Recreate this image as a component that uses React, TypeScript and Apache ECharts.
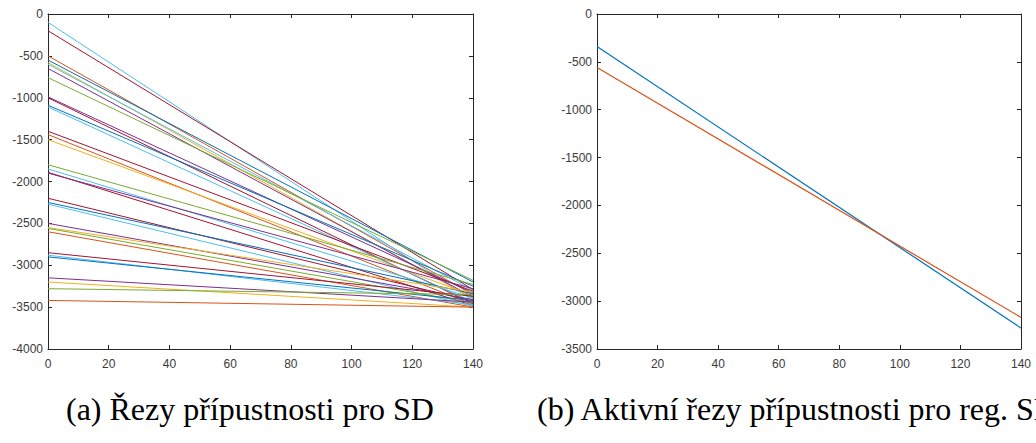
import React, { useEffect, useRef } from "react";
import * as echarts from "echarts";

// Left chart: start (x=0) and end (x=140) values of each cut
const leftStarts = [-100, -200, -500, -550, -580, -600, -650, -760, -990, -1000, -1090, -1110, -1400, -1440, -1500, -1800, -1850, -1890, -1900, -2200, -2250, -2270, -2500, -2550, -2560, -2600, -2850, -2880, -2900, -3150, -3200, -3280, -3420];
const leftEnds = [-3420, -3290, -3350, -3200, -3400, -3300, -3380, -3180, -3330, -3460, -3250, -3440, -3310, -3470, -3360, -3230, -3390, -3480, -3280, -3430, -3340, -3490, -3410, -3320, -3450, -3500, -3370, -3470, -3420, -3440, -3500, -3350, -3500];
const leftColorKeys = ["lb", "red", "orange", "blue", "yellow", "lb", "purple", "green", "purple", "red", "blue", "lb", "red", "orange", "yellow", "green", "lb", "red", "purple", "red", "blue", "lb", "purple", "yellow", "green", "orange", "red", "lb", "blue", "purple", "yellow", "green", "orange"];

// Right chart: two active cuts
const rightStarts = [-340, -560];
const rightEnds = [-3280, -3170];
const rightColorKeys = ["blue", "orange"];

const xRange = [0, 140];
const captions = ["(a) Řezy přípustnosti pro SD", "(b) Aktivní řezy přípustnosti pro reg. SD"];

const palette: Record<string, string> = {
  blue: "#0072BD",
  orange: "#D95319",
  yellow: "#EDB120",
  purple: "#7E2F8E",
  green: "#77AC30",
  lb: "#4DBEEE",
  red: "#A2142F",
};

const AXIS = "#262626";
const LABEL = "#3a3a3a";
const FONT = "'Liberation Sans', Arial, Helvetica, sans-serif";
const SERIF = "'Liberation Serif', 'Times New Roman', serif";

function xAxes(gridIndex: number) {
  const base = {
    gridIndex,
    type: "value" as const,
    min: 0,
    max: 140,
    interval: 20,
    splitLine: { show: false },
    axisLine: { show: true, onZero: false, lineStyle: { color: AXIS, width: 1 } },
    axisTick: { show: true, inside: true, length: 4, lineStyle: { color: AXIS } },
  };
  return [
    { ...base, position: "bottom", axisLabel: { show: true, color: LABEL, fontSize: 12, fontFamily: FONT, margin: 9, formatter: (v: number) => String(v) } },
    { ...base, position: "top", axisLabel: { show: false } },
  ];
}

function yAxes(gridIndex: number, min: number) {
  const base = {
    gridIndex,
    type: "value" as const,
    min,
    max: 0,
    interval: 500,
    splitLine: { show: false },
    axisLine: { show: true, onZero: false, lineStyle: { color: AXIS, width: 1 } },
    axisTick: { show: true, inside: true, length: 4, lineStyle: { color: AXIS } },
  };
  return [
    { ...base, position: "left", axisLabel: { show: true, color: LABEL, fontSize: 12, fontFamily: FONT, margin: 5, formatter: (v: number) => String(v) } },
    { ...base, position: "right", axisLabel: { show: false } },
  ];
}

export default function App() {
  const ref = useRef<HTMLDivElement>(null);
  useEffect(() => {
    document.body.style.margin = "0";
    if (!ref.current) return;
    const chart = echarts.init(ref.current, undefined, { renderer: "svg" });

    const series: any[] = [];
    leftStarts.forEach((s, i) => {
      series.push({
        type: "line",
        xAxisIndex: 0,
        yAxisIndex: 0,
        showSymbol: false,
        symbol: "none",
        lineStyle: { width: 1, color: palette[leftColorKeys[i]] },
        data: [[xRange[0], s], [xRange[1], leftEnds[i]]],
      });
    });
    rightStarts.forEach((s, i) => {
      series.push({
        type: "line",
        xAxisIndex: 2,
        yAxisIndex: 2,
        showSymbol: false,
        symbol: "none",
        lineStyle: { width: 1.2, color: palette[rightColorKeys[i]] },
        data: [[xRange[0], s], [xRange[1], rightEnds[i]]],
      });
    });

    chart.setOption({
      animation: false,
      grid: [
        { left: 48, top: 14, width: 425, height: 335 },
        { left: 597, top: 14, width: 424, height: 335 },
      ],
      xAxis: [...xAxes(0), ...xAxes(1)],
      yAxis: [...yAxes(0, -4000), ...yAxes(1, -3500)],
      series,
      graphic: [
        {
          type: "text",
          x: 66,
          y: 393,
          style: { text: captions[0], fontSize: 32, fontFamily: SERIF, fill: "#000" },
        },
        {
          type: "text",
          x: 537,
          y: 393,
          style: { text: captions[1], fontSize: 32, fontFamily: SERIF, fill: "#000" },
        },
      ],
    });
    return () => chart.dispose();
  }, []);
  return <div ref={ref} style={{ width: 1036, height: 443 }} />;
}
